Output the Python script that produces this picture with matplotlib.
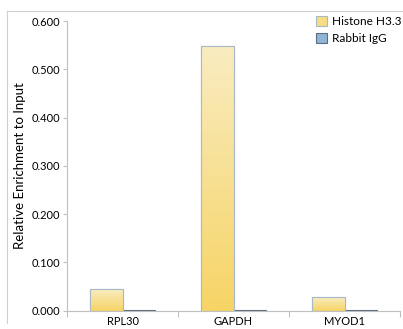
from matplotlib import pyplot as plt
from matplotlib.lines import Line2D
from matplotlib.colors import LinearSegmentedColormap
import numpy as np

plt.rcParams['font.family'] = ['Lato', 'DejaVu Sans']

genes = ["RPL30", "GAPDH", "MYOD1"]
histone = [0.044, 0.549, 0.028]
igg = [0.002, 0.001, 0.002]
series_names = ["Histone H3.3", "Rabbit IgG"]
y_ticks = [0.0, 0.1, 0.2, 0.3, 0.4, 0.5, 0.6]

fig = plt.figure(figsize=(4.03, 3.29), dpi=100)
ax = fig.add_axes([67 / 403, 1 - 310.7 / 329, 333 / 403, (310.7 - 21) / 329])

x = np.arange(len(genes))
bar_width = 0.29
bars_h = ax.bar(x - bar_width / 2, histone, bar_width, color='#f7dc82',
                edgecolor='#a9b8c6', linewidth=0.8, label=series_names[0], zorder=2)
bars_i = ax.bar(x + bar_width / 2, igg, bar_width, color='#8fb4d6',
                edgecolor='#5a6e80', linewidth=0.8, label=series_names[1], zorder=2)

# gradient fill for the yellow bars (light on top, deeper at bottom)
grad = np.linspace(0, 1, 256).reshape(-1, 1)
cmap = LinearSegmentedColormap.from_list('yl', ['#f6d465', '#f9ecc0'])
for b in bars_h:
    x0, y0 = b.get_x(), b.get_y()
    w, h = b.get_width(), b.get_height()
    im = ax.imshow(grad, extent=[x0, x0 + w, y0, y0 + h], origin='lower',
                   cmap=cmap, aspect='auto', zorder=2.5)
    im.set_clip_path(b)
# redraw outlines on top of the gradient
ax.bar(x - bar_width / 2, histone, bar_width, facecolor='none',
       edgecolor='#a9b8c6', linewidth=0.8, zorder=3)

ax.set_xlim(-0.5, len(genes) - 0.5)
ax.set_ylim(0, 0.6)
ax.set_yticks(y_ticks)
ax.set_yticklabels(['%.3f' % v for v in y_ticks], fontsize=8)
ax.set_xticks(x)
ax.set_xticklabels(genes, fontsize=8)
ax.set_xticks(np.arange(len(genes) + 1) - 0.5, minor=True)
ax.tick_params(axis='x', which='major', length=0, pad=4)
ax.tick_params(axis='x', which='minor', length=4, color='#c0c0c0', width=0.8)
ax.tick_params(axis='y', length=3, color='#c0c0c0', width=0.8, pad=2)
ax.set_ylabel("Relative Enrichment to Input", fontsize=9.5, labelpad=4)

for s in ['top', 'right']:
    ax.spines[s].set_visible(False)
for s in ['left', 'bottom']:
    ax.spines[s].set_color('#c0c0c0')
    ax.spines[s].set_linewidth(0.8)

ax.legend(loc='upper right', bbox_to_anchor=(1.035, 1.055), frameon=False,
          fontsize=8.5, handlelength=0.9, handleheight=0.9,
          handletextpad=0.4, labelspacing=0.55)

# outer chart frame (top and left edges visible)
fig.add_artist(Line2D([7 / 403, 1], [1 - 11 / 329, 1 - 11 / 329], color='#cfcfcf', lw=0.8))
fig.add_artist(Line2D([7 / 403, 7 / 403], [1 - 11 / 329, 1 - 323 / 329], color='#cfcfcf', lw=0.8))

fig.savefig('out.png', dpi=100)
